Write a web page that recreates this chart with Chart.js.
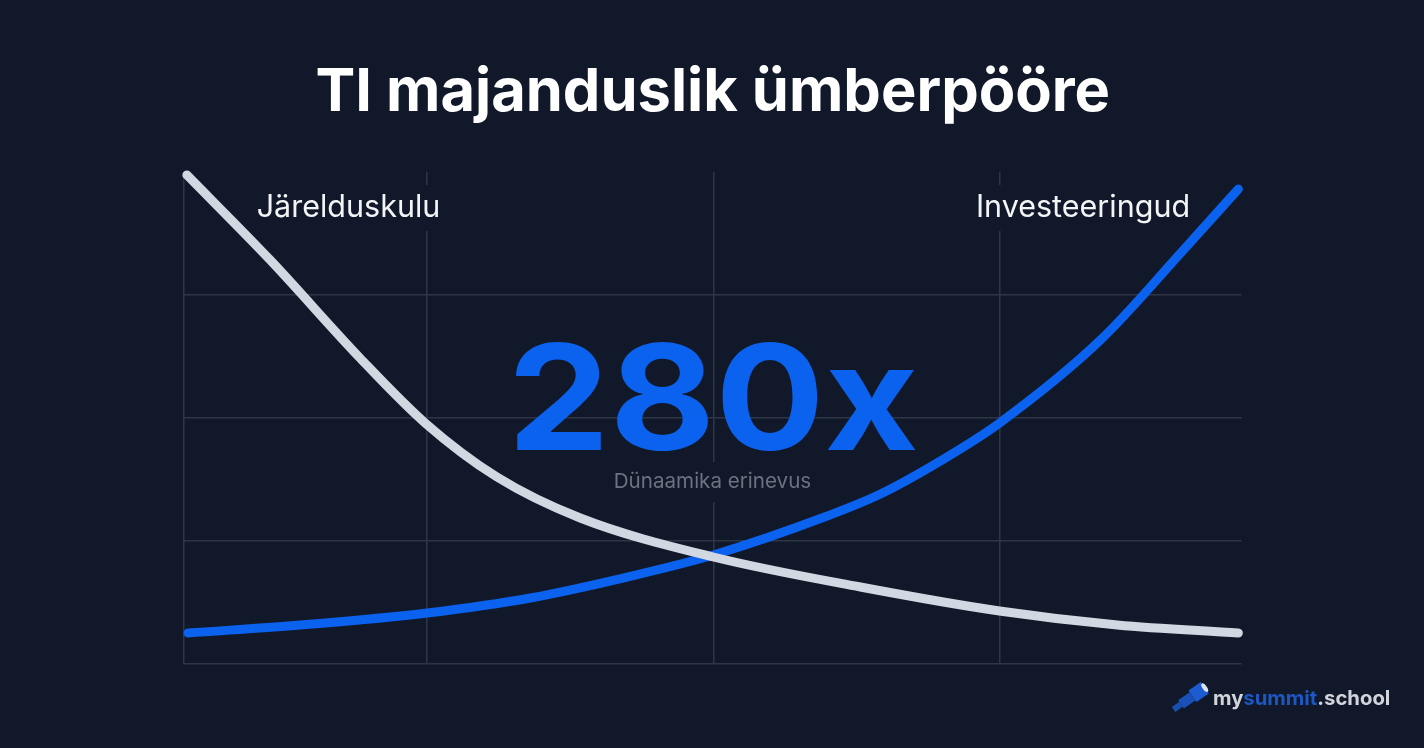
<!DOCTYPE html>
<html><head><meta charset="utf-8">
<style>html,body{margin:0;padding:0;background:#10182a;overflow:hidden}canvas{display:block}</style>
<script src="https://cdn.jsdelivr.net/npm/chart.js@4/dist/chart.umd.min.js"></script>
</head><body><canvas id="c" width="1424" height="748"></canvas>
<script>
const titleText = "TI majanduslik ümberpööre";
const costName = "Järelduskulu";
const investName = "Investeeringud";
const bigNumber = "280x";
const bigLabel = "Dünaamika erinevus";
const xTicks = [0, 0.85, 1.85, 2.85];
const yTicks = [0, 1, 2, 3];
const costX = [0.01,0.301,0.615,0.843,1.094,1.385,1.85,2.364,2.85,3.262,3.685];
const costY = [3.976,3.285,2.488,1.959,1.52,1.187,0.87,0.626,0.431,0.317,0.252];
const investX = [0.014,0.451,0.85,1.21,1.549,1.85,2.248,2.434,2.678,2.85,3.203,3.493,3.685];
const investY = [0.252,0.325,0.415,0.537,0.707,0.886,1.203,1.382,1.699,1.959,2.634,3.366,3.862];
const BG="#10182a", BLUE="#0b62ee", GREY="#d1d8e2", GRID="#2e3646";
const F="Inter, 'Noto Sans', sans-serif";
const zip=(a,b)=>a.map((x,i)=>({x,y:b[i]}));
const annot={id:"annot",
 beforeDatasetsDraw(ch){const c=ch.ctx;c.save();
  c.fillStyle=BG;
  c.fillRect(250,185,196,46);c.fillRect(968,185,230,46);c.fillRect(606,462,214,40);
  c.textAlign="center";c.textBaseline="alphabetic";
  c.save();c.translate(713,449.5);c.scale(1.11,1);
  c.font="700 146px "+F;c.fillStyle=BLUE;c.fillText(bigNumber,0,0);c.restore();
  c.font="400 20.6px "+F;c.fillStyle="#6b7280";c.fillText(bigLabel,712.5,488);
  c.font="400 30.5px "+F;c.fillStyle="#f3f4f6";
  c.fillText(costName,348.5,217);c.fillText(investName,1083,217);
  c.restore();},
 afterDraw(ch){const c=ch.ctx;c.save();
  c.textBaseline="alphabetic";c.textAlign="left";c.font="700 20.3px "+F;
  let x=1213;const y=705;
  [["my","#d1d5db"],["summit","#1d57c4"],[".school","#d1d5db"]].forEach(([t,col])=>{c.fillStyle=col;c.fillText(t,x,y);x+=c.measureText(t).width;});
  c.translate(1190,698);c.rotate(-35*Math.PI/180);
  c.fillStyle="#1a4fb0";c.fillRect(-20,-3,9,6);
  c.fillStyle="#1a50b8";c.fillRect(-11,-5,14,10);
  c.fillStyle="#1d5cd0";c.fillRect(3,-7,15,14);
  c.fillStyle="#dbe4f5";c.beginPath();c.ellipse(18,0,2.2,5,0,0,7);c.fill();
  c.restore();}
};
new Chart(document.getElementById("c"),{
 type:"line",
 data:{datasets:[
  {label:costName,data:zip(costX,costY),borderColor:GREY,borderWidth:9,pointRadius:0,cubicInterpolationMode:"monotone",borderCapStyle:"round",clip:false},
  {label:investName,data:zip(investX,investY),borderColor:BLUE,borderWidth:9,pointRadius:0,cubicInterpolationMode:"monotone",borderCapStyle:"round",clip:false}
 ]},
 plugins:[annot,{id:"bg",beforeDraw(ch){ch.ctx.fillStyle=BG;ch.ctx.fillRect(0,0,ch.width,ch.height);}}],
 options:{responsive:false,animation:false,
  layout:{padding:{left:184,right:182.5,top:0,bottom:84}},
  plugins:{legend:{display:false},tooltip:{enabled:false},
   title:{display:true,text:titleText,color:"#ffffff",font:{family:F,size:59.6,weight:"700",lineHeight:1.2},padding:{top:57,bottom:43.5}}},
  scales:{
   x:{type:"linear",min:0,max:3.696,border:{display:false},
    grid:{color:GRID,lineWidth:1.5,drawTicks:false},
    ticks:{display:false},afterBuildTicks(a){a.ticks=xTicks.map(value=>({value}));}},
   y:{min:0,max:4,border:{display:false},
    grid:{color:GRID,lineWidth:1.5,drawTicks:false},
    ticks:{display:false},afterBuildTicks(a){a.ticks=yTicks.map(value=>({value}));}}
  }}
});
</script></body></html>
